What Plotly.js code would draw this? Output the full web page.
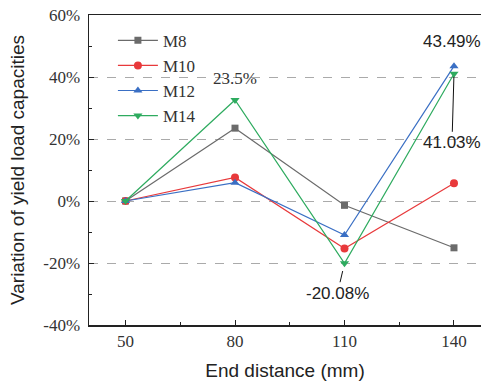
<!DOCTYPE html>
<html><head><meta charset="utf-8">
<script src="https://cdn.plot.ly/plotly-3.0.1.min.js"></script>
<style>html,body{margin:0;padding:0;background:#fff}#c{width:481px;height:383px}</style>
</head><body><div id="c"></div>
<script>
const endDistance = [50, 80, 110, 140];
const seriesNames = ['M8', 'M10', 'M12', 'M14'];
const m8 = [0, 23.5, -1.4, -15.1];
const m10 = [0, 7.6, -15.3, 5.7];
const m12 = [0, 5.9, -11.0, 43.49];
const m14 = [0, 32.6, -20.08, 41.03];
const yTicks = [-40, -20, 0, 20, 40, 60];

const colors = ['#6b6b6b', '#e8393b', '#3a6fc4', '#2eab5f'];
const symbols = ['square', 'circle', 'triangle-up', 'triangle-down'];
const data = [m8, m10, m12, m14].map((ys, i) => ({
  x: endDistance, y: ys, name: seriesNames[i], type: 'scatter', mode: 'lines+markers',
  line: {color: colors[i], width: 1.2},
  marker: {symbol: symbols[i], color: colors[i], size: i === 0 ? 7 : 8}
}));

const serif = 'Liberation Serif, Times New Roman, serif';
const sans = 'Liberation Sans, Arial, sans-serif';

const layout = {
  width: 481, height: 383,
  margin: {l: 89, r: 0, t: 15, b: 58},
  paper_bgcolor: '#fff', plot_bgcolor: '#fff',
  showlegend: true,
  legend: {x: 0.061, y: 0.975, xanchor: 'left', yanchor: 'top', bgcolor: 'rgba(0,0,0,0)',
    font: {family: serif, size: 17, color: '#333'}, tracegroupgap: 0, itemwidth: 40},
  xaxis: {
    range: [40, 147.4], tickmode: 'linear', tick0: 50, dtick: 30,
    showline: true, linecolor: '#222', linewidth: 1.5, mirror: true,
    ticks: 'inside', ticklen: 5, tickcolor: '#222',
    minor: {ticks: 'inside', ticklen: 3, tick0: 50, dtick: 15, tickcolor: '#222'},
    showgrid: false, zeroline: false,
    tickfont: {family: serif, size: 17, color: '#333'},
    title: {text: 'End distance (mm)', font: {family: sans, size: 19, color: '#222'}, standoff: 14}
  },
  yaxis: {
    range: [-40, 60], tickmode: 'array', tickvals: yTicks, ticktext: yTicks.map(v => v + '%'),
    showline: true, linecolor: '#222', linewidth: 1.5,
    ticks: 'inside', ticklen: 5, tickcolor: '#222', ticklabelstandoff: 4,
    minor: {ticks: 'inside', ticklen: 3, tick0: -30, dtick: 20, tickcolor: '#222'},
    showgrid: true, gridcolor: '#aaa', griddash: 'dash', gridwidth: 1, zeroline: false,
    tickfont: {family: serif, size: 17, color: '#333'},
    title: {text: 'Variation of yield load capacities', font: {family: sans, size: 19, color: '#222'}, standoff: 13}
  },
  annotations: [
    {x: endDistance[1], y: m14[1], text: m8[1] + '%', showarrow: false, yshift: 21,
      font: {family: serif, size: 17, color: '#333'}},
    {x: endDistance[3], y: m12[3], text: m12[3].toFixed(2) + '%', showarrow: false, yshift: 25, xshift: -2,
      font: {family: sans, size: 17, color: '#222'}},
    {x: endDistance[3], y: m14[3], text: m14[3].toFixed(2) + '%', showarrow: true, arrowhead: 0,
      arrowwidth: 1, arrowcolor: '#111', ax: -2, ay: 69, standoff: 3,
      font: {family: sans, size: 17, color: '#222'}},
    {x: endDistance[2], y: m14[2], text: m14[2].toFixed(2) + '%', showarrow: true, arrowhead: 0,
      arrowwidth: 1, arrowcolor: '#111', ax: -7, ay: 30, standoff: 8,
      font: {family: sans, size: 17, color: '#222'}}
  ]
};
Plotly.newPlot('c', data, layout, {displayModeBar: false, staticPlot: true});
</script></body></html>
